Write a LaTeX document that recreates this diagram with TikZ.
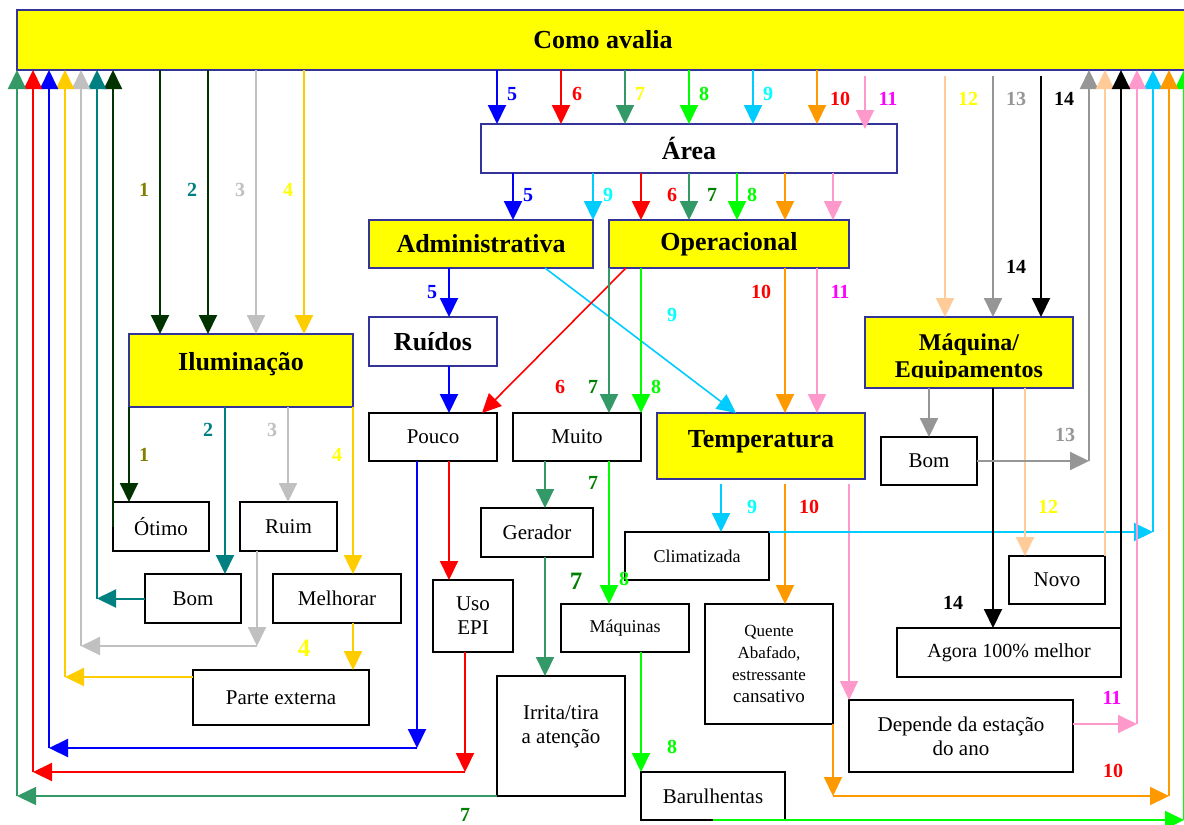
\documentclass[tikz,border=0pt]{standalone}
\usepackage{fontspec}
\setmainfont{Liberation Serif}
\usetikzlibrary{arrows.meta,calc}

% frame and fill colours
\definecolor{frameblue}{HTML}{333399}
\definecolor{hiyellow}{HTML}{FFFF00}
% connector colours
\definecolor{cSea}{HTML}{339966}
\definecolor{cRed}{HTML}{FF0000}
\definecolor{cBlue}{HTML}{0000FF}
\definecolor{cGold}{HTML}{FFCC00}
\definecolor{cSilver}{HTML}{C0C0C0}
\definecolor{cTeal}{HTML}{008080}
\definecolor{cDkGreen}{HTML}{003300}
\definecolor{cLime}{HTML}{00FF00}
\definecolor{cSky}{HTML}{00CCFF}
\definecolor{cOrange}{HTML}{FF9900}
\definecolor{cPink}{HTML}{FF99CC}
\definecolor{cPeach}{HTML}{FFCC99}
\definecolor{cGray}{HTML}{969696}
% number label colours
\definecolor{lOlive}{HTML}{808000}
\definecolor{lGreen}{HTML}{008000}
\definecolor{lCyan}{HTML}{00FFFF}
\definecolor{lMagenta}{HTML}{FF00FF}
\definecolor{lYellow}{HTML}{FFFF00}

\begin{document}
\begin{tikzpicture}[x=1pt,y=-1pt,
  box/.style={draw=black, line width=2.2pt, fill=white, inner sep=0pt, outer sep=0pt,
    font=\fontsize{21}{24}\selectfont, align=center, anchor=north west},
  smallbox/.style={box, font=\fontsize{18}{21}\selectfont},
  hibox/.style={box, draw=frameblue, line width=2pt, fill=hiyellow,
    font=\fontsize{26}{28}\selectfont\bfseries},
  plainhibox/.style={hibox, fill=white},
  conn/.style={line width=2pt, -{Triangle[length=19pt,width=18pt]}},
  num/.style={font=\fontsize{20}{22}\selectfont\bfseries, inner sep=0pt},
  bignum/.style={font=\fontsize{25}{27}\selectfont\bfseries, inner sep=0pt}]

\clip (0,0) rectangle (1184,825);
\fill[white] (0,0) rectangle (1184,825);

% ---------- boxes ----------
\node[hibox, minimum width=1172pt, minimum height=60pt] (title) at (17,10) {Como avalia};

\node[hibox, minimum width=224pt, minimum height=73pt, text depth=18pt] (ilum) at (129,334) {Iluminação};
\node[box, minimum width=96pt, minimum height=49pt] (otimo) at (113,502) {Ótimo};
\node[box, minimum width=97pt, minimum height=49pt] (ruim) at (240,502) {Ruim};
\node[box, minimum width=96pt, minimum height=49pt] (bom) at (145,574) {Bom};
\node[box, minimum width=128pt, minimum height=49pt] (melhorar) at (273,574) {Melhorar};
\node[box, minimum width=176pt, minimum height=55pt] (parte) at (193,670) {Parte externa};

\node[plainhibox, minimum width=416pt, minimum height=49pt] (area) at (481,124) {Área};
\node[hibox, minimum width=224pt, minimum height=48pt] (admin) at (369,220) {Administrativa};
\node[hibox, minimum width=240pt, minimum height=48pt] (oper) at (609,220) {Operacional};
\node[plainhibox, minimum width=128pt, minimum height=49pt] (ruidos) at (369,317) {Ruídos};

\node[box, minimum width=128pt, minimum height=48pt] (pouco) at (369,413) {Pouco};
\node[box, minimum width=128pt, minimum height=48pt] (muito) at (513,413) {Muito};
\node[hibox, minimum width=208pt, minimum height=66pt, text depth=14pt] (temp) at (657,413) {Temperatura};

\node[box, minimum width=80pt, minimum height=72pt] (usoepi) at (433,580) {Uso\\EPI};
\node[box, minimum width=112pt, minimum height=49pt] (gerador) at (481,508) {Gerador};
\node[box, minimum width=128pt, minimum height=120pt] (irrita) at (497,676) {};
\node[font=\fontsize{21}{24}\selectfont, align=center, inner sep=0pt] (irritatxt) at (561,727) {Irrita/tira\\a atenção};
\node[smallbox, minimum width=128pt, minimum height=48pt] (maquinas) at (561,604) {Máquinas};
\node[box, minimum width=144pt, minimum height=48pt] (barulhentas) at (641,772) {Barulhentas};

\node[smallbox, minimum width=144pt, minimum height=48pt] (climat) at (625,532) {Climatizada};
\node[box, minimum width=128pt, minimum height=120pt, font=\fontsize{17}{22}\selectfont] (quente) at (705,604)
  {Quente\\Abafado,\\estressante\\{\fontsize{19}{22}\selectfont cansativo}};
\node[box, minimum width=224pt, minimum height=72pt] (depende) at (849,700) {Depende da estação\\do ano};

\node[hibox, minimum width=208pt, minimum height=71pt] (maq) at (865,317) {};
\begin{scope}
  % the lower line of this label runs into the bottom of its box
  \clip (866,318) rectangle (1072,377);
  \node[font=\fontsize{24}{27}\selectfont\bfseries, align=center, inner sep=0pt] (maqtxt) at (969,358) {Máquina/\\Equipamentos};
\end{scope}
\node[box, minimum width=96pt, minimum height=48pt] (bom2) at (881,437) {Bom};
\node[box, minimum width=96pt, minimum height=48pt] (novo) at (1009,556) {Novo};
\node[box, minimum width=224pt, minimum height=49pt, font=\fontsize{20}{24}\selectfont] (agora) at (897,628) {Agora 100\% melhor};

% ---------- corner points of the return lines ----------
\coordinate (sgCorner) at (17,796);
\coordinate (rdDrop) at (465,772);
\coordinate (rdCorner) at (33,772);
\coordinate (blDrop) at (417,748);
\coordinate (blCorner) at (49,748);
\coordinate (gdCorner) at (65,677);
\coordinate (svDrop) at (257,646);
\coordinate (svCorner) at (81,646);
\coordinate (tlCorner) at (97,598.5);
\coordinate (gyCorner) at (1089,461);
\coordinate (pkCorner) at (1137,724);
\coordinate (skCorner) at (1153,532);
\coordinate (orDrop) at (833,796);
\coordinate (orCorner) at (1169,796);
\coordinate (lmCorner) at (1184,820);
\coordinate (pkTop) at (865,76);
\coordinate (t12) at (945,76);
\coordinate (t13) at (993,76);
\coordinate (t14) at (1041,76);

% ---------- Iluminacao branch ----------
\foreach \xx/\cc in {160/cDkGreen,208/cDkGreen,256/cSilver,304/cGold}
  \draw[conn,\cc] (title.south -| \xx,0) -- (ilum.north -| \xx,0);
\draw[conn,cDkGreen] (ilum.south west) -- (otimo.north -| ilum.south west);
\draw[conn,cTeal] (ilum.south -| 225,0) -- (bom.north -| 225,0);
\draw[conn,cSilver] (ilum.south -| 288,0) -- (ruim.north -| 288,0);
\draw[conn,cGold] (ilum.south east) -- (melhorar.north -| ilum.south east);
\draw[conn,cGold] (melhorar.south -| 353,0) -- (parte.north -| 353,0);

% returns on the left
\draw[conn,cDkGreen] (otimo.west) -- (title.south -| otimo.west);
\draw[conn,cTeal] (bom.west) -- (tlCorner);
\draw[conn,cTeal] (tlCorner) -- (title.south -| tlCorner);
\draw[conn,cSilver] (ruim.south -| svDrop) -- (svDrop);
\draw[conn,cSilver] (svDrop) -- (svCorner);
\draw[conn,cSilver] (svCorner) -- (title.south -| svCorner);
\draw[conn,cGold] (parte.west |- gdCorner) -- (gdCorner);
\draw[conn,cGold] (gdCorner) -- (title.south -| gdCorner);

% ---------- Area branch ----------
\foreach \xx/\cc in {497/cBlue,561/cRed,625/cSea,689/cLime,753/cSky,817/cOrange}
  \draw[conn,\cc] (title.south -| \xx,0) -- (area.north -| \xx,0);
\draw[conn,cPink] (pkTop) -- ($(area.north -| pkTop)+(0,5)$);

\foreach \xx/\cc in {513/cBlue,593/cSky}
  \draw[conn,\cc] (area.south -| \xx,0) -- (admin.north -| \xx,0);
\foreach \xx/\cc in {641/cRed,689/cSea,737/cLime,785/cOrange,833/cPink}
  \draw[conn,\cc] (area.south -| \xx,0) -- (oper.north -| \xx,0);

\draw[conn,cBlue] (admin.south -| 449,0) -- (ruidos.north -| 449,0);
\draw[conn,cBlue] (ruidos.south -| 449,0) -- (pouco.north -| 449,0);
\draw[conn,cSky,line width=1.6pt] (admin.south -| 545,0) -- (temp.north -| 736,0);
\draw[conn,cRed,line width=1.6pt] (oper.south -| 626,0) -- (pouco.north -| 482,0);
\draw[conn,cSea] (oper.south west) -- (muito.north -| oper.south west);
\draw[conn,cLime] (oper.south -| muito.north east) -- (muito.north east);
\draw[conn,cOrange] (oper.south -| 785,0) -- (temp.north -| 785,0);
\draw[conn,cPink] (oper.south -| 817,0) -- (temp.north -| 817,0);

% Pouco
\draw[conn,cBlue] (pouco.south -| blDrop) -- (blDrop);
\draw[conn,cBlue] (blDrop) -- (blCorner);
\draw[conn,cBlue] (blCorner) -- (title.south -| blCorner);
\draw[conn,cRed] (pouco.south -| 449,0) -- (usoepi.north -| 449,0);
\draw[conn,cRed] (usoepi.south -| rdDrop) -- (rdDrop);
\draw[conn,cRed] (rdDrop) -- (rdCorner);
\draw[conn,cRed] (rdCorner) -- (title.south -| rdCorner);

% Muito
\draw[conn,cSea] (muito.south -| 545,0) -- (gerador.north -| 545,0);
\draw[conn,cSea] (gerador.south -| 545,0) -- (irrita.north -| 545,0);
\draw[conn,cSea,line width=1.6pt] (irrita.south west) -- (sgCorner);
\draw[conn,cSea] (sgCorner) -- (title.south -| sgCorner);
\draw[conn,cLime] (muito.south -| 609,0) -- (maquinas.north -| 609,0);
\draw[conn,cLime] (maquinas.south -| barulhentas.north west) -- (barulhentas.north west);
\draw[conn,cLime] (barulhentas.south) -- (lmCorner);
\draw[conn,cLime] (lmCorner) -- (title.south -| lmCorner);

% Temperatura
\draw[conn,cSky] ($(temp.south -| 721,0)+(0,5)$) -- (climat.north -| 721,0);
\draw[conn,cOrange] ($(temp.south -| 785,0)+(0,5)$) -- (quente.north -| 785,0);
\draw[conn,cPink] ($(temp.south -| depende.north west)+(0,5)$) -- (depende.north west);
\draw[conn,cSky] (climat.north east) -- (skCorner);
\draw[conn,cSky] (skCorner) -- (title.south -| skCorner);
\draw[conn,cOrange] (quente.south east) -- (orDrop);
\draw[conn,cOrange] (orDrop) -- (orCorner);
\draw[conn,cOrange] (orCorner) -- (title.south -| orCorner);
\draw[conn,cPink] (depende.east |- pkCorner) -- (pkCorner);
\draw[conn,cPink] (pkCorner) -- (title.south -| pkCorner);

% ---------- Maquina / Equipamentos branch ----------
\draw[conn,cPeach] (t12) -- (maq.north -| t12);
\draw[conn,cGray] (t13) -- (maq.north -| t13);
\draw[conn,black] (t14) -- (maq.north -| t14);
\draw[conn,cGray] (maq.south -| 929,0) -- (bom2.north -| 929,0);
\draw[conn,black] (maq.south -| 993,0) -- (agora.north -| 993,0);
\draw[conn,cPeach] (maq.south -| 1025,0) -- (novo.north -| 1025,0);
\draw[conn,cGray] (bom2.east) -- (gyCorner);
\draw[conn,cGray] (gyCorner) -- (title.south -| gyCorner);
\draw[conn,cPeach] (novo.north east) -- (title.south -| novo.north east);
\draw[conn,black] (agora.north east) -- (title.south -| agora.north east);

% ---------- number labels ----------
\node[num,lOlive] (n1a) at (144,190) {1};
\node[num,cTeal] (n2a) at (192,190) {2};
\node[num,cSilver] (n3a) at (240,190) {3};
\node[num,lYellow] (n4a) at (288,190) {4};
\node[num,lOlive] (n1b) at (144,455) {1};
\node[num,cTeal] (n2b) at (208,430) {2};
\node[num,cSilver] (n3b) at (272,430) {3};
\node[num,lYellow] (n4b) at (337,455) {4};
\node[bignum,lYellow] (n4c) at (304,648) {4};

\node[num,cBlue] (n5a) at (512,94) {5};
\node[num,cRed] (n6a) at (577,94) {6};
\node[num,lYellow] (n7a) at (640,94) {7};
\node[num,cLime] (n8a) at (704,94) {8};
\node[num,lCyan] (n9a) at (768,94) {9};
\node[num,cRed] (n10a) at (840,99) {10};
\node[num,lMagenta] (n11a) at (888,99) {11};

\node[num,cBlue] (n5b) at (528,195) {5};
\node[num,lCyan] (n9b) at (608,195) {9};
\node[num,cRed] (n6b) at (672,195) {6};
\node[num,lGreen] (n7b) at (712,195) {7};
\node[num,cLime] (n8b) at (752,195) {8};

\node[num,cBlue] (n5c) at (432,292) {5};
\node[num,lCyan] (n9c) at (672,315) {9};
\node[num,cRed] (n10b) at (761,292) {10};
\node[num,lMagenta] (n11b) at (840,292) {11};
\node[num,cRed] (n6c) at (560,387) {6};
\node[num,lGreen] (n7c) at (593,387) {7};
\node[num,cLime] (n8c) at (656,387) {8};

\node[num,lGreen] (n7d) at (593,483) {7};
\node[bignum,lGreen] (n7e) at (576,581) {7};
\node[num,cLime] (n8d) at (624,579) {8};
\node[num,cLime] (n8e) at (672,747) {8};
\node[num,lGreen] (n7f) at (465,815) {7};

\node[num,lCyan] (n9d) at (752,507) {9};
\node[num,cRed] (n10c) at (809,507) {10};
\node[num,lMagenta] (n11c) at (1112,698) {11};
\node[num,cRed] (n10d) at (1113,771) {10};

\node[num,lYellow] (n12a) at (968,99) {12};
\node[num,cGray] (n13a) at (1016,99) {13};
\node[num,black] (n14a) at (1064,99) {14};
\node[num,black] (n14b) at (1016,267) {14};
\node[num,lYellow] (n12b) at (1048,507) {12};
\node[num,cGray] (n13b) at (1065,435) {13};
\node[num,black] (n14c) at (953,603) {14};

\end{tikzpicture}
\end{document}
